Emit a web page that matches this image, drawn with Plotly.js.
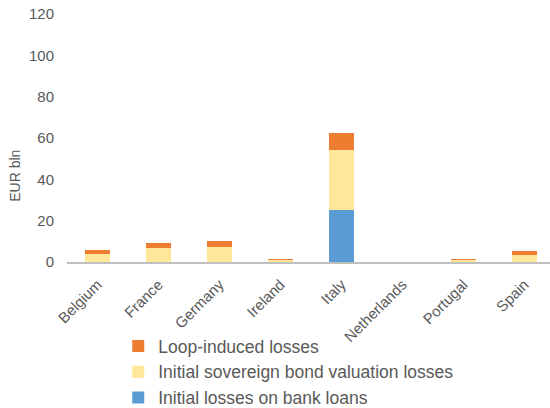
<!DOCTYPE html>
<html>
<head>
<meta charset="utf-8">
<script src="https://cdn.plot.ly/plotly-3.0.1.min.js"></script>
<style>html,body{margin:0;padding:0;background:#fff;}#chart{width:550px;height:408px;}</style>
</head>
<body>
<div id="chart"></div>
<script>
var countries = ["Belgium", "France", "Germany", "Ireland", "Italy", "Netherlands", "Portugal", "Spain"];
var bankLoanLosses = [0, 0, 0, 0, 25.0, 0, 0, 0];
var sovereignBondLosses = [4.1, 7.0, 7.3, 0.8, 29.2, 0, 0.8, 3.6];
var loopInducedLosses = [1.6, 2.0, 2.7, 0.5, 8.1, 0, 0.8, 1.6];
var yTicks = [0, 20, 40, 60, 80, 100, 120];

var FONT = "Liberation Sans, Arial, sans-serif";
var GREY = "#595959";

var traces = [
  {type: "bar", name: "Initial losses on bank loans", x: countries, y: bankLoanLosses,
   marker: {color: "#5B9BD5"}},
  {type: "bar", name: "Initial sovereign bond valuation losses", x: countries, y: sovereignBondLosses,
   marker: {color: "#FFE699"}},
  {type: "bar", name: "Loop-induced losses", x: countries, y: loopInducedLosses,
   marker: {color: "#ED7D31"}}
];

var layout = {
  width: 550, height: 408,
  margin: {l: 67, r: 0, t: 14, b: 146, autoexpand: false},
  paper_bgcolor: "#fff", plot_bgcolor: "#fff",
  barmode: "stack", bargap: 0.6,
  font: {family: FONT, color: GREY, size: 15},
  showlegend: true,
  legend: {
    orientation: "v", traceorder: "reversed",
    xref: "container", yref: "container",
    x: 0.215, xanchor: "left", y: 0.196, yanchor: "top",
    font: {family: FONT, size: 17.5, color: GREY},
    bgcolor: "rgba(0,0,0,0)", borderwidth: 0
  },
  xaxis: {
    type: "category", range: [-0.5, 7.42],
    showline: true, linecolor: "#BFBFBF", linewidth: 2,
    showgrid: false, zeroline: false, ticks: "",
    tickangle: -45, ticklabelstandoff: 6,
    tickfont: {family: FONT, size: 15, color: GREY}
  },
  yaxis: {
    range: [0, 120], tickvals: yTicks, ticktext: yTicks.map(String),
    showgrid: false, zeroline: false, showline: false, ticks: "",
    ticklabelstandoff: 12,
    tickfont: {family: FONT, size: 15, color: GREY}
  },
  annotations: [{
    text: "EUR bln", xref: "paper", yref: "paper",
    x: -0.108, y: 0.347, xanchor: "center", yanchor: "middle",
    textangle: -90, showarrow: false,
    font: {family: FONT, size: 14, color: GREY}
  }]
};

Plotly.newPlot("chart", traces, layout, {staticPlot: true, displayModeBar: false});
</script>
</body>
</html>
